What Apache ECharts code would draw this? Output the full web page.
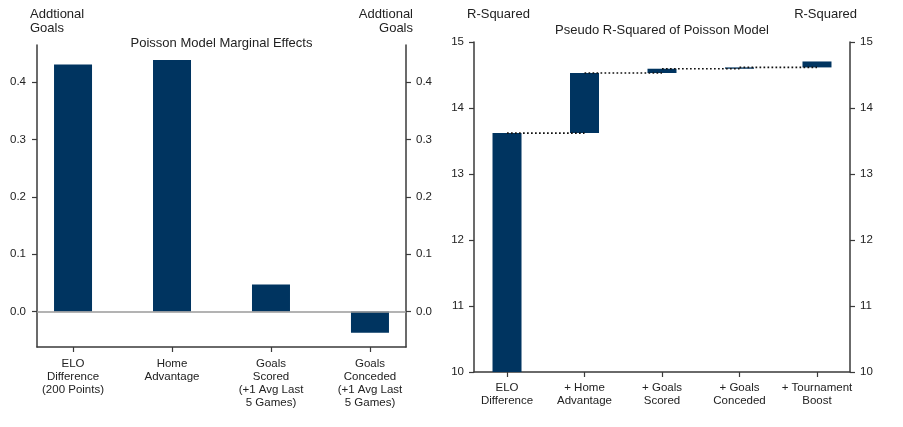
<!DOCTYPE html>
<html>
<head>
<meta charset="utf-8">
<script src="https://cdn.jsdelivr.net/npm/echarts@6/dist/echarts.min.js"></script>
<style>
html,body{margin:0;padding:0;background:#fff;}
#chart{width:903px;height:427px;}
</style>
</head>
<body>
<div id="chart"></div>
<script>
// ---- data ----
var marginalCats = ['ELO\nDifference\n(200 Points)', 'Home\nAdvantage', 'Goals\nScored\n(+1 Avg Last\n5 Games)', 'Goals\nConceded\n(+1 Avg Last\n5 Games)'];
var marginalVals = [0.431, 0.439, 0.047, -0.037];
var marginalTicks = [0.0, 0.1, 0.2, 0.3, 0.4];

var rsqCats = ['ELO\nDifference', '+ Home\nAdvantage', '+ Goals\nScored', '+ Goals\nConceded', '+ Tournament\nBoost'];
var rsqStart = [10, 13.62, 14.53, 14.595, 14.615];
var rsqEnd = [13.62, 14.53, 14.595, 14.615, 14.705];
var rsqTicks = [10, 11, 12, 13, 14, 15];

// ---- styles ----
var FONT = '"Liberation Sans", Arial, sans-serif';
var BAR = '#003460';
var AX = '#3a3a3a';
var TXT = '#222';

var chart = echarts.init(document.getElementById('chart'));

function catIdx(n) { var a = []; for (var i = 0; i < n; i++) a.push(i); return a; }

var connectors = [];
for (var i = 0; i < rsqEnd.length - 1; i++) {
  connectors.push([i, rsqEnd[i]]);
  connectors.push([i + 1, rsqEnd[i]]);
  if (i < rsqEnd.length - 2) connectors.push('-');
}

function yAx(gridIndex, position, min, max, ticks, margin, fmt) {
  var ax = {
    gridIndex: gridIndex, type: 'value', position: position, min: min, max: max,
    axisLine: { show: true, onZero: false, lineStyle: { color: AX, width: 1.5 } },
    axisTick: { show: true, length: 5, customValues: ticks, lineStyle: { color: AX, width: 1.2 } },
    axisLabel: { customValues: ticks, color: TXT, fontSize: 11.5, fontFamily: FONT, margin: margin },
    splitLine: { show: false }
  };
  if (fmt) ax.axisLabel.formatter = fmt;
  return ax;
}
function xAx(gridIndex, min, max, cats, margin) {
  return {
    gridIndex: gridIndex, type: 'value', min: min, max: max,
    axisLine: { show: true, onZero: false, lineStyle: { color: AX, width: 1.5 } },
    axisTick: { show: true, length: 5, customValues: catIdx(cats.length), lineStyle: { color: AX, width: 1.2 } },
    axisLabel: { customValues: catIdx(cats.length), formatter: function (v) { return cats[Math.round(v)]; },
      color: TXT, fontSize: 11.5, fontFamily: FONT, lineHeight: 13, margin: margin, align: 'center' },
    splitLine: { show: false }
  };
}
var fmt1 = function (v) { return v.toFixed(1); };

var option = {
  animation: false,
  backgroundColor: '#fff',
  grid: [
    { left: 37, right: 497, top: 45, bottom: 80 },
    { left: 474, right: 53, top: 42, bottom: 55 }
  ],
  xAxis: [
    xAx(0, -0.364, 3.364, marginalCats, 10),
    xAx(1, -0.426, 4.426, rsqCats, 9.5)
  ],
  yAxis: [
    yAx(0, 'left', -0.062, 0.465, marginalTicks, 11, fmt1),
    yAx(0, 'right', -0.062, 0.465, marginalTicks, 10, fmt1),
    yAx(1, 'left', 10, 15, rsqTicks, 10),
    yAx(1, 'right', 10, 15, rsqTicks, 10)
  ],
  series: [
    {
      type: 'bar', xAxisIndex: 0, yAxisIndex: 0, barWidth: 38,
      itemStyle: { color: BAR },
      data: marginalVals.map(function (v, i) { return [i, v]; }),
      markLine: {
        silent: true, symbol: 'none', label: { show: false },
        lineStyle: { color: '#9a9a9a', type: 'solid', width: 1.5 },
        data: [{ yAxis: 0 }]
      }
    },
    {
      type: 'custom', coordinateSystem: 'cartesian2d', xAxisIndex: 1, yAxisIndex: 2,
      encode: { x: 0, y: [1, 2] },
      data: rsqStart.map(function (s, i) { return [i, s, rsqEnd[i]]; }),
      renderItem: function (params, api) {
        var x = api.value(0);
        var p0 = api.coord([x, api.value(1)]);
        var p1 = api.coord([x, api.value(2)]);
        var w = 29;
        var cs = params.coordSys;
        var shape = echarts.graphic.clipRectByRect(
          { x: p0[0] - w / 2, y: p1[1], width: w, height: Math.max(p0[1] - p1[1], 1) },
          { x: cs.x, y: cs.y, width: cs.width, height: cs.height });
        return { type: 'rect', shape: shape, style: { fill: BAR } };
      }
    },
    {
      type: 'line', xAxisIndex: 1, yAxisIndex: 2, z: 5,
      symbol: 'none', connectNulls: false,
      lineStyle: { color: '#111', width: 1.7, type: [1.7, 2.3] },
      data: connectors
    }
  ],
  graphic: [
    { type: 'text', x: 30, y: 7, style: { text: 'Addtional\nGoals', fill: TXT, fontSize: 13, fontFamily: FONT, lineHeight: 14.5, align: 'left', verticalAlign: 'top' } },
    { type: 'text', x: 413, y: 7, style: { text: 'Addtional\nGoals', fill: TXT, fontSize: 13, fontFamily: FONT, lineHeight: 14.5, align: 'right', verticalAlign: 'top' } },
    { type: 'text', x: 221.5, y: 37, style: { text: 'Poisson Model Marginal Effects', fill: TXT, fontSize: 13, fontFamily: FONT, align: 'center', verticalAlign: 'top' } },
    { type: 'text', x: 467, y: 7, style: { text: 'R-Squared', fill: TXT, fontSize: 13, fontFamily: FONT, lineHeight: 14.5, align: 'left', verticalAlign: 'top' } },
    { type: 'text', x: 857, y: 7, style: { text: 'R-Squared', fill: TXT, fontSize: 13, fontFamily: FONT, lineHeight: 14.5, align: 'right', verticalAlign: 'top' } },
    { type: 'text', x: 662, y: 24, style: { text: 'Pseudo R-Squared of Poisson Model', fill: TXT, fontSize: 13, fontFamily: FONT, align: 'center', verticalAlign: 'top' } }
  ]
};
chart.setOption(option);
</script>
</body>
</html>
